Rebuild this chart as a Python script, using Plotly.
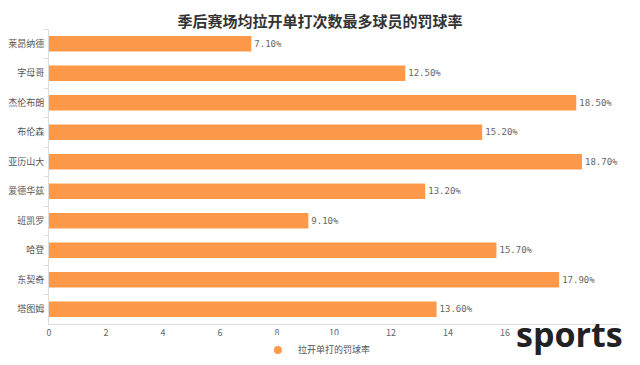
import plotly.graph_objects as go

players = ["莱昂纳德", "字母哥", "杰伦布朗", "布伦森", "亚历山大", "爱德华兹", "班凯罗", "哈登", "东契奇", "塔图姆"]
rates = [7.1, 12.5, 18.5, 15.2, 18.7, 13.2, 9.1, 15.7, 17.9, 13.6]
x_ticks = [0, 2, 4, 6, 8, 10, 12, 14, 16]
series_name = "拉开单打的罚球率"
title_text = "季后赛场均拉开单打次数最多球员的罚球率"

FONT = "Noto Sans CJK SC"
ORANGE = "#FF994A"

fig = go.Figure()
fig.add_trace(go.Bar(
    y=players, x=rates, orientation="h", name=series_name,
    marker=dict(color=ORANGE, line=dict(width=0)),
    width=0.52,
    text=[f"{v:.2f}%" for v in rates], textposition="outside",
    textfont=dict(size=9, color="#666666", family="DejaVu Sans Mono"),
    cliponaxis=False, showlegend=False,
))
fig.add_trace(go.Scatter(
    x=[None], y=[None], mode="markers", name=series_name,
    marker=dict(color=ORANGE, size=8, symbol="circle"), showlegend=True,
))
fig.update_layout(
    width=624, height=349,
    margin=dict(l=41, r=13, t=21, b=33, autoexpand=False),
    paper_bgcolor="white", plot_bgcolor="white",
    title=dict(text=title_text, x=0.5, xanchor="center", y=0.962, yanchor="middle",
               font=dict(size=15, color="#333333", family=FONT, weight="bold")),
    xaxis=dict(range=[0, 20], tickvals=x_ticks, showgrid=False, zeroline=False,
               showline=True, linecolor="#DDDDDD", ticks="", automargin=False,
               tickfont=dict(size=9, color="#666666", family=FONT)),
    yaxis=dict(autorange="reversed", showgrid=False, showline=True, linecolor="#DDDDDD",
               ticks="outside", tickson="boundaries", ticklen=4, tickcolor="#DDDDDD",
               automargin=False,
               tickfont=dict(size=9, color="#555555", family=FONT), ticklabelstandoff=2),
    legend=dict(orientation="h", x=0.47, xanchor="center", y=-0.088, yanchor="middle",
                font=dict(size=9, color="#555555", family=FONT), itemwidth=30),
    showlegend=True, bargap=0.48,
)
fig.add_annotation(text="<b>sports</b>", xref="paper", yref="paper", x=1.01, y=-0.034,
                   xanchor="right", yanchor="middle", showarrow=False,
                   font=dict(size=34, color="#222222", family="Open Sans"))
fig.write_html("out.html")
